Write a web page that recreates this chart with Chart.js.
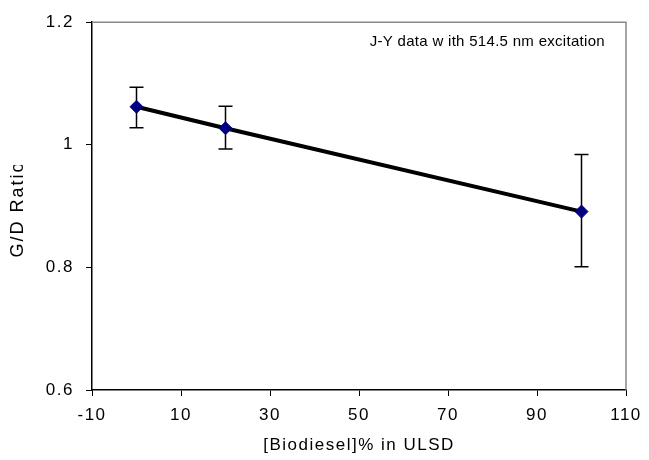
<!DOCTYPE html>
<html lang="en">
<head>
    <meta charset="UTF-8">
    <title>G/D Ratio vs Biodiesel</title>
    <script src="https://cdn.jsdelivr.net/npm/chart.js"></script>
    <style>
        body { margin: 0; background: #fff; }
        #wrap { width: 649px; height: 460px; }
    </style>
</head>
<body>
<div id="wrap"><canvas id="grafico" width="649" height="460"></canvas></div>
<script>
    // data
    const biodiesel = [0, 20, 100];
    const gdRatio = [1.062, 1.027, 0.891];
    const errLow = [1.028, 0.993, 0.801];
    const errHigh = [1.094, 1.063, 0.984];
    const xTicks = [-10, 10, 30, 50, 70, 90, 110];
    const yTicks = [0.6, 0.8, 1, 1.2];
    const note = 'J-Y data w ith 514.5 nm excitation';
    const yTitle = 'G/D Ratio';

    const font = "'Liberation Sans', Arial, sans-serif";

    // error bars, grey frame, note and the (clipped) y title
    const extras = {
        id: 'extras',
        beforeDraw(chart) {
            // old excel text is a bit spread out
            chart.ctx.letterSpacing = '1.5px';
        },
        beforeDatasetsDraw(chart) {
            const ctx = chart.ctx, a = chart.chartArea;
            const x = chart.scales.x, y = chart.scales.y;
            ctx.save();
            ctx.strokeStyle = '#888';
            ctx.lineWidth = 1.5;
            ctx.beginPath();
            ctx.moveTo(a.left, a.top);
            ctx.lineTo(a.right, a.top);
            ctx.lineTo(a.right, a.bottom);
            ctx.stroke();

            ctx.strokeStyle = '#000';
            ctx.lineWidth = 1.5;
            biodiesel.forEach((b, i) => {
                const px = x.getPixelForValue(b);
                const t = y.getPixelForValue(errHigh[i]);
                const u = y.getPixelForValue(errLow[i]);
                ctx.beginPath();
                ctx.moveTo(px, t); ctx.lineTo(px, u);
                ctx.moveTo(px - 7, t); ctx.lineTo(px + 7, t);
                ctx.moveTo(px - 7, u); ctx.lineTo(px + 7, u);
                ctx.stroke();
            });

            ctx.fillStyle = '#000';
            ctx.letterSpacing = '0.3px';
            ctx.font = '15px ' + font;
            ctx.textAlign = 'right';
            ctx.textBaseline = 'middle';
            ctx.fillText(note, a.right - 21, a.top + 20);

            // y title, cut off at the top like the original
            ctx.beginPath();
            ctx.rect(0, 165, 40, 300);
            ctx.clip();
            ctx.translate(18, 209);
            ctx.rotate(-Math.PI / 2);
            ctx.letterSpacing = '2px';
            ctx.font = '18px ' + font;
            ctx.textAlign = 'center';
            ctx.fillText(yTitle, 0, 0);
            ctx.restore();
        }
    };

    new Chart(document.getElementById('grafico'), {
        type: 'scatter',
        data: {
            datasets: [{
                data: biodiesel.map((b, i) => ({ x: b, y: gdRatio[i] })),
                showLine: true,
                borderColor: '#000',
                borderWidth: 4,
                pointStyle: 'rectRot',
                pointRadius: 6.5,
                pointBackgroundColor: '#000080',
                pointBorderColor: '#000080',
                pointBorderWidth: 1
            }]
        },
        options: {
            responsive: false,
            animation: false,
            layout: { padding: { top: 21, right: 23, left: 0, bottom: 0 } },
            plugins: { legend: { display: false }, tooltip: { enabled: false } },
            scales: {
                x: {
                    type: 'linear',
                    min: -10, max: 110,
                    afterBuildTicks: s => { s.ticks = xTicks.map(v => ({ value: v })); },
                    afterFit: s => { s.height = 70; },
                    grid: { drawOnChartArea: false, color: '#000', tickLength: 6 },
                    border: { color: '#000', width: 1.5 },
                    ticks: { color: '#000', font: { family: font, size: 17 }, padding: 9 },
                    title: { display: true, text: '[Biodiesel]% in ULSD', color: '#000',
                             font: { family: font, size: 17 }, padding: { top: 0, bottom: 4 } }
                },
                y: {
                    min: 0.6, max: 1.2,
                    afterBuildTicks: s => { s.ticks = yTicks.map(v => ({ value: v })); },
                    afterFit: s => { s.width = 92; },
                    grid: { drawOnChartArea: false, color: '#000', tickLength: 6 },
                    border: { color: '#000', width: 1.5 },
                    ticks: { color: '#000', font: { family: font, size: 17 }, padding: 12,
                             callback: v => String(+v.toFixed(1)) }
                }
            }
        },
        plugins: [extras]
    });
</script>
</body>
</html>
